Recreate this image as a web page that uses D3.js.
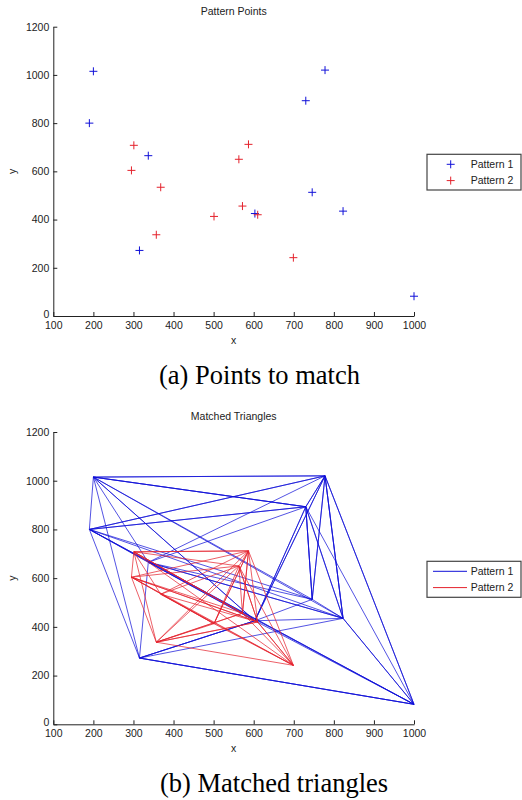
<!DOCTYPE html>
<html>
<head>
<meta charset="utf-8">
<script src="https://cdn.jsdelivr.net/npm/d3@7"></script>
<style>
  body { margin: 0; background: #fff; }
  svg { display: block; }
  .axis text { font-family: "Liberation Sans", Arial, sans-serif; font-size: 10.5px; fill: #222; }
  .axis path, .axis line { stroke: #222; }
  .lbl { font-family: "Liberation Sans", Arial, sans-serif; font-size: 10.5px; fill: #222; }
  .cap { font-family: "Liberation Serif", "Times New Roman", serif; font-size: 26.5px; fill: #000; }
</style>
</head>
<body>
<svg id="fig" width="522" height="800"></svg>
<script>
// Points
const pattern1 = [
  [200, 1015], [190, 800], [337, 665], [315, 272], [603, 425],
  [730, 893], [778, 1020], [746, 513], [823, 435], [1000, 82]
];
const pattern2 = [
  [301, 708], [295, 604], [368, 534], [357, 337], [501, 413],
  [563, 650], [587, 712], [572, 456], [610, 420], [699, 242]
];

// Triangles (indices into the pattern arrays)
const triangles1 = [
  [0, 6, 5], [0, 1, 5], [1, 3, 9], [3, 4, 9], [6, 9, 8], [5, 7, 8],
  [0, 3, 4], [1, 5, 7], [2, 5, 4], [6, 5, 7], [2, 9, 3], [1, 2, 8],
  [0, 8, 6], [4, 8, 3], [6, 4, 7], [5, 8, 9], [1, 4, 6], [0, 2, 7],
  [1, 9, 6], [2, 6, 8], [0, 4, 5]
];
const triangles2 = [
  [0, 6, 5], [0, 1, 8], [1, 3, 4], [3, 9, 8], [6, 9, 7], [0, 6, 8],
  [1, 5, 7], [2, 6, 4], [3, 5, 8], [3, 6, 7], [0, 2, 9], [1, 6, 4],
  [2, 5, 8], [5, 9, 4], [0, 7, 3], [1, 8, 9]
];

const xTicks = [100, 200, 300, 400, 500, 600, 700, 800, 900, 1000];
const yTicks = [0, 200, 400, 600, 800, 1000, 1200];
const seriesNames = ["Pattern 1", "Pattern 2"];
const blue = "#1010d8";
const red = "#e4222c";

const svg = d3.select("#fig");

function makePanel(top, bottom, title) {
  const x = d3.scaleLinear().domain([100, 1000]).range([53.3, 414]);
  const y = d3.scaleLinear().domain([0, 1200]).range([bottom, top]);
  const g = svg.append("g");

  g.append("g").attr("class", "axis")
    .attr("transform", `translate(0,${bottom})`)
    .call(d3.axisBottom(x).tickValues(xTicks).tickFormat(d3.format("d"))
      .tickSizeInner(-4).tickSizeOuter(0).tickPadding(5.5));
  const ya = g.append("g").attr("class", "axis")
    .attr("transform", "translate(53.3,0)")
    .call(d3.axisLeft(y).tickValues(yTicks).tickFormat(d3.format("d"))
      .tickSizeInner(-4).tickSizeOuter(0).tickPadding(4));
  // the zero label sits a touch higher, as in the original
  ya.selectAll(".tick text").filter(d => d === 0).attr("dy", "0.1em");

  g.append("text").attr("class", "lbl")
    .attr("x", 233.7).attr("y", top - 12)
    .attr("text-anchor", "middle").text(title);
  g.append("text").attr("class", "lbl")
    .attr("x", 233.7).attr("y", bottom + 28)
    .attr("text-anchor", "middle").text("x");
  g.append("text").attr("class", "lbl")
    .attr("transform", `translate(16,${(top + bottom) / 2}) rotate(-90)`)
    .attr("text-anchor", "middle").text("y");
  return { g, x, y };
}

// (a) points
const pa = makePanel(26.7, 316, "Pattern Points");
function plus(sel, color) {
  sel.append("line").attr("x1", -4).attr("x2", 4).attr("y1", 0).attr("y2", 0);
  sel.append("line").attr("x1", 0).attr("x2", 0).attr("y1", -4).attr("y2", 4);
  sel.attr("stroke", color).attr("stroke-width", 1);
}
[[pattern1, blue], [pattern2, red]].forEach(([pts, c]) => {
  pa.g.selectAll(null).data(pts).enter().append("g")
    .attr("transform", d => `translate(${pa.x(d[0])},${pa.y(d[1])})`)
    .call(plus, c);
});

// legend (a)
const la = svg.append("g").attr("transform", "translate(427,154.3)");
la.append("rect").attr("width", 94).attr("height", 35.7)
  .attr("fill", "#fff").attr("stroke", "#444").attr("stroke-width", 1.2);
seriesNames.forEach((n, i) => {
  const row = la.append("g").attr("transform", `translate(0,${10 + i * 16.3})`);
  row.append("g").attr("transform", "translate(23.7,0)").call(plus, i ? red : blue);
  row.append("text").attr("class", "lbl").attr("x", 43.7).attr("dy", "0.35em").text(n);
});

// (b) triangles
const pb = makePanel(432, 724.3, "Matched Triangles");
const tri = d3.line().x(d => pb.x(d[0])).y(d => pb.y(d[1]));
[[triangles1, pattern1, blue], [triangles2, pattern2, red]].forEach(([tris, pts, c]) => {
  pb.g.append("g").selectAll("path").data(tris).enter().append("path")
    .attr("d", t => tri(t.map(i => pts[i])) + "Z")
    .attr("fill", "none").attr("stroke", c)
    .attr("stroke-width", 0.9).attr("stroke-opacity", 0.8)
    .attr("stroke-linejoin", "round");
});

// legend (b)
const lb = svg.append("g").attr("transform", "translate(427,561.3)");
lb.append("rect").attr("width", 94).attr("height", 36)
  .attr("fill", "#fff").attr("stroke", "#444").attr("stroke-width", 1.2);
seriesNames.forEach((n, i) => {
  const row = lb.append("g").attr("transform", `translate(0,${10 + i * 16.3})`);
  row.append("line").attr("x1", 6).attr("x2", 40).attr("stroke", i ? red : blue).attr("stroke-width", 1);
  row.append("text").attr("class", "lbl").attr("x", 43.7).attr("dy", "0.35em").text(n);
});

// captions
svg.append("text").attr("class", "cap").attr("x", 159).attr("y", 384).text("(a) Points to match");
svg.append("text").attr("class", "cap").attr("x", 160).attr("y", 792).text("(b) Matched triangles");
</script>
</body>
</html>
